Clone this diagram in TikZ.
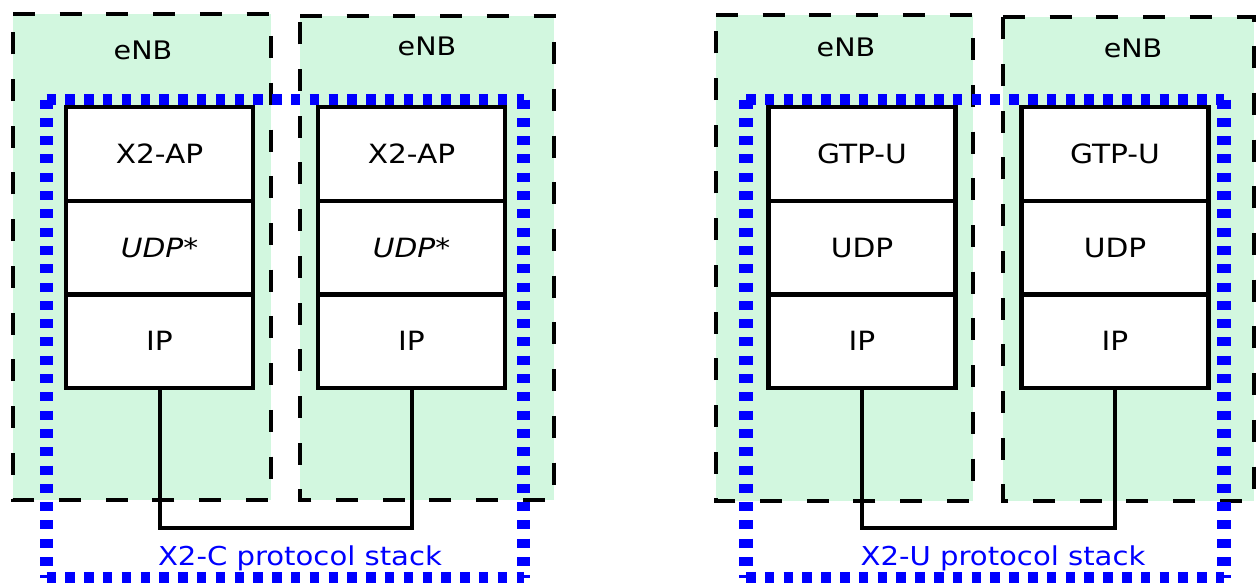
\documentclass[tikz,border=0pt]{standalone}
\usepackage{fontspec}
\setmainfont{DejaVu Sans}[FakeStretch=1.12]
\definecolor{enbgreen}{RGB}{210,247,223}
\begin{document}
\begin{tikzpicture}[x=1pt,y=-1pt,
  enbbox/.style={fill=enbgreen, rectangle, inner sep=0pt, outer sep=0pt, anchor=north west},
  enbdash/.style={draw=black, line width=4.6pt, dash pattern=on 22pt off 24.7pt},
  enbtext/.style={font=\fontsize{25.5}{30}\selectfont, inner sep=0pt},
  cell/.style={draw=black, fill=white, line width=4.3pt, rectangle, minimum width=187pt,
    minimum height=93.7pt, inner sep=0pt, outer sep=0pt, font=\fontsize{26.5}{30}\selectfont},
  link/.style={draw=black, line width=4pt},
  stackbox/.style={rectangle, inner sep=0pt, outer sep=0pt, anchor=north west},
  bluehor/.style={draw=blue, line width=11.5pt, dash pattern=on 9.5pt off 9.3pt},
  bluever/.style={draw=blue, line width=13.5pt, dash pattern=on 9pt off 9.3pt},
  stacklabel/.style={text=blue, font=\fontsize{26}{30}\selectfont, inner sep=0pt, anchor=base}]
\useasboundingbox (0,0) rectangle (1257,584);
% eNB boxes
\node[enbbox, minimum width=258pt, minimum height=486pt] (enb1) at (13,14) {};
\node[enbbox, minimum width=254pt, minimum height=484pt] (enb2) at (300,16) {};
\node[enbbox, minimum width=257pt, minimum height=486pt] (enb3) at (716,15) {};
\node[enbbox, minimum width=251pt, minimum height=484pt] (enb4) at (1003,17) {};
\foreach \e in {enb1,enb2,enb3,enb4}
  \draw[enbdash] (\e.north west) -- (\e.north east) -- (\e.south east) -- (\e.south west) -- cycle;
\node[enbtext] (t1) at (143,50) {eNB};
\node[enbtext] (t2) at (427,46) {eNB};
\node[enbtext] (t3) at (846,47) {eNB};
\node[enbtext] (t4) at (1133,48) {eNB};
% X2-C stacks
\node[cell] (apa) at (159.5,153.85) {X2-AP};
\node[cell] (udpa) at (159.5,247.55) {\itshape UDP*};
\node[cell] (ipa) at (159.5,341.25) {IP};
\node[cell] (apb) at (411.5,153.85) {X2-AP};
\node[cell] (udpb) at (411.5,247.55) {\itshape UDP*};
\node[cell] (ipb) at (411.5,341.25) {IP};
% X2-U stacks
\node[cell] (gtpc) at (862,153.85) {GTP-U};
\node[cell] (udpc) at (862,247.55) {UDP};
\node[cell] (ipc) at (862,341.25) {IP};
\node[cell] (gtpd) at (1115,153.85) {GTP-U};
\node[cell] (udpd) at (1115,247.55) {UDP};
\node[cell] (ipd) at (1115,341.25) {IP};
% connectors
\coordinate (ba) at (159.5,528);
\coordinate (bc) at (862,528);
\draw[link] (ipa.south) -- (ba) -| (ipb.south);
\draw[link] (ipc.south) -- (bc) -| (ipd.south);
% protocol stack frames
\node[stackbox, minimum width=477pt, minimum height=478pt] (x2c) at (46.5,99.5) {};
\node[stackbox, minimum width=478pt, minimum height=478pt] (x2u) at (746,99.5) {};
\foreach \f in {x2c,x2u}{
  \draw[bluehor] (\f.north west) -- (\f.north east);
  \draw[bluehor] (\f.south west) -- (\f.south east);
  \draw[bluever] (\f.north west) -- (\f.south west);
  \draw[bluever] (\f.north east) -- (\f.south east);
}
\node[stacklabel] (lc) at (300,565) {X2-C protocol stack};
\node[stacklabel] (lu) at (1003,565) {X2-U protocol stack};
\end{tikzpicture}
\end{document}
